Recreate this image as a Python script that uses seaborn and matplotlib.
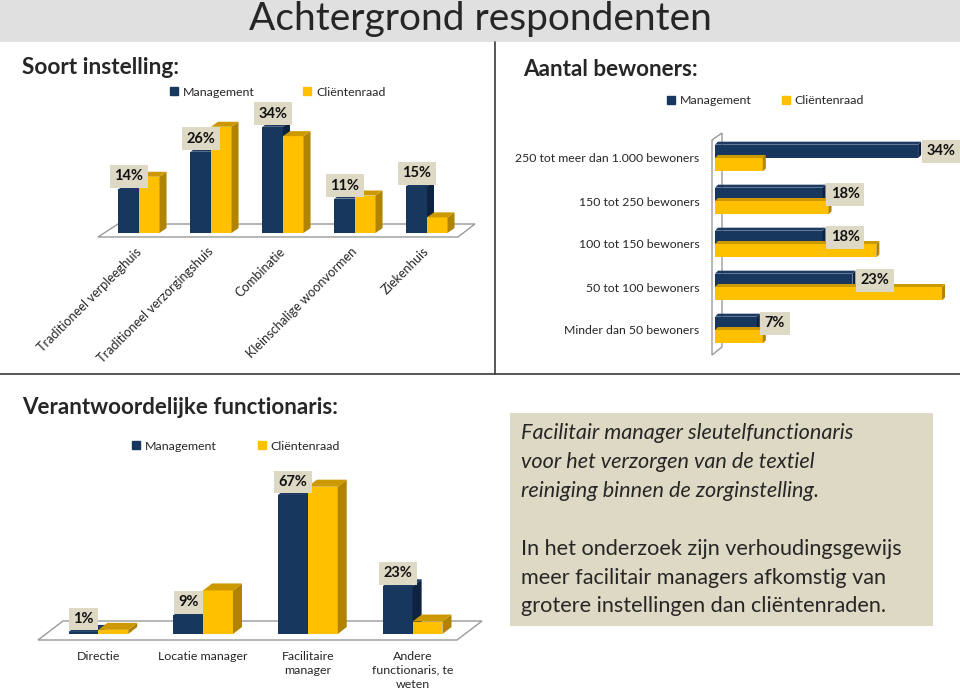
import matplotlib
matplotlib.use('Agg')
import matplotlib.pyplot as plt
from matplotlib.patches import Polygon, Rectangle, Patch
from matplotlib.lines import Line2D
import seaborn as sns
import pandas as pd
import numpy as np

# data
groups = ['Management', 'Cliëntenraad']

soort_cats = ['Traditioneel verpleeghuis', 'Traditioneel verzorgingshuis', 'Combinatie',
              'Kleinschalige woonvormen', 'Ziekenhuis']
soort_mgmt = [14, 26, 34, 11, 15]
soort_client = [18, 34, 31, 12, 5]

bewoners_cats = ['250 tot meer dan 1.000 bewoners', '150 tot 250 bewoners', '100 tot 150 bewoners',
                 '50 tot 100 bewoners', 'Minder dan 50 bewoners']
bewoners_mgmt = [34, 18, 18, 23, 7]
bewoners_client = [8, 19, 27, 38, 8]

functie_cats = ['Directie', 'Locatie manager', 'Facilitaire\nmanager', 'Andere\nfunctionaris, te\nweten']
functie_mgmt = [1, 9, 67, 23]
functie_client = [2, 21, 71, 6]

tekst_italic = ['Facilitair manager sleutelfunctionaris',
                'voor het verzorgen van de textiel',
                'reiniging binnen de zorginstelling.']
tekst_normaal = ['In het onderzoek zijn verhoudingsgewijs',
                 'meer facilitair managers afkomstig van',
                 'grotere instellingen dan cliëntenraden.']

navy = '#17375e'
yellow = '#ffc000'
navy_side, navy_top = '#0e2340', '#1d3a62'
yellow_side, yellow_top = '#b08300', '#cc9a00'
beige = '#ddd9c4'

sns.set_theme(style='white')
plt.rcParams['font.family'] = ['Lato', 'DejaVu Sans']

W, H = 960, 696
fig = plt.figure(figsize=(W / 100, H / 100), dpi=100)


def fx(x):
    return x / W


def fy(y):
    return 1 - y / H


def add_ax(x0, y0, x1, y1):
    return fig.add_axes([fx(x0), fy(y1), (x1 - x0) / W, (y1 - y0) / H])


def long_df(cats, mgmt, client):
    return pd.DataFrame({
        'cat': cats + cats,
        'groep': [groups[0]] * len(cats) + [groups[1]] * len(cats),
        'pct': mgmt + client,
    })


def clean(ax):
    ax.set_xlabel('')
    ax.set_ylabel('')
    for s in ax.spines.values():
        s.set_visible(False)
    ax.tick_params(length=0)
    ax.set_facecolor('none')


def add_depth(ax, dxp, dyp):
    # fake 3D faces from the bar geometry
    inv = ax.transData.inverted()
    p0 = ax.transData.transform((0, 0))
    dx, dy = inv.transform(p0 + np.array([dxp, dyp])) - inv.transform(p0)
    faces = [(navy_side, navy_top), (yellow_side, yellow_top)]
    horizontal = ax.yaxis_inverted()
    for ci, cont in enumerate(ax.containers):
        side_c, top_c = faces[ci]
        for bar in cont:
            x, y = bar.get_x(), bar.get_y()
            w, h = bar.get_width(), bar.get_height()
            bar.set_zorder(2 + ci)
            side = [(x + w, y), (x + w + dx, y + dy), (x + w + dx, y + h + dy), (x + w, y + h)]
            if horizontal:
                top = [(x, y), (x + dx, y + dy), (x + w + dx, y + dy), (x + w, y)]
            else:
                top = [(x, y + h), (x + dx, y + h + dy), (x + w + dx, y + h + dy), (x + w, y + h)]
            ax.add_patch(Polygon(side, closed=True, fc=side_c, ec='none', zorder=2 + ci))
            ax.add_patch(Polygon(top, closed=True, fc=top_c, ec='none', zorder=2 + ci))


def label_mgmt(ax, values, offset, horizontal=False):
    for bar, v in zip(ax.containers[0], values):
        if horizontal:
            xy = (bar.get_x() + bar.get_width(), bar.get_y() + bar.get_height() / 2)
            ha = 'left'
        else:
            xy = (bar.get_x() + bar.get_width() / 2, bar.get_height())
            ha = 'center'
        ax.annotate(f'{v}%', xy=xy, xytext=offset, textcoords='offset pixels',
                    ha=ha, va='center', fontsize=10.5, fontweight='bold', color='#111111',
                    bbox=dict(boxstyle='square,pad=0.3', fc=beige, ec='none'), zorder=6)


def outline(ax, pts):
    ax.add_patch(Polygon([(fx(a), fy(b)) for a, b in pts], closed=True, fill=False,
                         ec='#9a9a9a', lw=1, transform=fig.transFigure, clip_on=False, zorder=1))


def legend(ax, x, y, spacing):
    handles = [Patch(color=navy), Patch(color=yellow)]
    ax.legend(handles, groups, ncol=2, loc='center left', bbox_to_anchor=(fx(x), fy(y)),
              bbox_transform=fig.transFigure, frameon=False, fontsize=8.9,
              handlelength=0.65, handleheight=0.65, handletextpad=0.4,
              columnspacing=spacing, borderpad=0, borderaxespad=0)


# title band
fig.patches.append(Rectangle((0, fy(42)), 1, 42 / H, transform=fig.transFigure,
                             fc='#e0e0e0', ec='none', zorder=0))
fig.text(0.5, fy(19), 'Achtergrond respondenten', ha='center', va='center', fontsize=28)

# separators
fig.lines.append(Line2D([fx(495), fx(495)], [fy(42), fy(374)], transform=fig.transFigure,
                        color='#3a3a3a', lw=1.2))
fig.lines.append(Line2D([0, 1], [fy(374), fy(374)], transform=fig.transFigure,
                        color='#3a3a3a', lw=1.2))

# panel 1: soort instelling
fig.text(fx(22), fy(68), 'Soort instelling:', fontsize=16.3, fontweight='bold', va='center')
ax1 = add_ax(103, 108, 463, 233)
sns.barplot(data=long_df(soort_cats, soort_mgmt, soort_client), x='cat', y='pct',
            hue='groep', hue_order=groups, order=soort_cats, palette=[navy, yellow],
            saturation=1, width=0.57, linewidth=0, legend=False, ax=ax1)
ax1.set_xlim(-0.5, 4.5)
ax1.set_ylim(0, 40)
ax1.set_yticks([])
clean(ax1)
ax1.set_xticks(range(len(soort_cats)))
ax1.set_xticklabels(soort_cats, rotation=45, ha='right', va='center',
                    rotation_mode='anchor', fontsize=9.2)
ax1.tick_params(axis='x', pad=12)
add_depth(ax1, 7, 5)
label_mgmt(ax1, soort_mgmt, (0, 13))
outline(ax1, [(98, 237), (458, 237), (475, 224), (118, 224)])
legend(ax1, 170, 92, 3.9)

# panel 2: aantal bewoners
fig.text(fx(523), fy(70), 'Aantal bewoners:', fontsize=16.2, fontweight='bold', va='center')
ax2 = add_ax(715, 136.5, 954, 351.5)
sns.barplot(data=long_df(bewoners_cats, bewoners_mgmt, bewoners_client), y='cat', x='pct',
            hue='groep', hue_order=groups, order=bewoners_cats, palette=[navy, yellow],
            saturation=1, width=0.62, linewidth=0, orient='h', legend=False, ax=ax2)
ax2.set_xlim(0, 40)
ax2.set_ylim(4.5, -0.5)
ax2.set_xticks([])
clean(ax2)
ax2.tick_params(axis='y', pad=11, labelsize=8.8)
add_depth(ax2, 3, 3)
label_mgmt(ax2, bewoners_mgmt, (8, 0), horizontal=True)
outline(ax2, [(712, 140), (722, 133), (722, 347), (712, 355)])
legend(ax2, 667, 101, 2.4)

# panel 3: verantwoordelijke functionaris
fig.text(fx(22), fy(407), 'Verantwoordelijke functionaris:', fontsize=16.1, fontweight='bold', va='center')
ax3 = add_ax(46, 468, 465, 634)
sns.barplot(data=long_df(functie_cats, functie_mgmt, functie_client), x='cat', y='pct',
            hue='groep', hue_order=groups, order=functie_cats, palette=[navy, yellow],
            saturation=1, width=0.57, linewidth=0, legend=False, ax=ax3)
ax3.set_xlim(-0.5, 3.5)
ax3.set_ylim(0, 80)
ax3.set_yticks([])
clean(ax3)
ax3.set_xticks(range(len(functie_cats)))
ax3.set_xticklabels(functie_cats, fontsize=8.9, linespacing=1.35)
ax3.tick_params(axis='x', pad=12)
add_depth(ax3, 9, 7)
label_mgmt(ax3, functie_mgmt, (0, 13))
outline(ax3, [(38, 640), (457, 640), (482, 621), (63, 621)])
legend(ax3, 132, 446, 3.3)

# text box
fig.patches.append(Rectangle((fx(510), fy(626)), (933 - 510) / W, (626 - 413) / H,
                             transform=fig.transFigure, fc=beige, ec='none', zorder=0))
for i, line in enumerate(tekst_italic):
    fig.text(fx(521), fy(433 + 29 * i), line, fontsize=15.6, style='italic', va='center')
for i, line in enumerate(tekst_normaal):
    fig.text(fx(521), fy(549 + 28.5 * i), line, fontsize=15.6, va='center')

fig.savefig('out.png', dpi=100)
